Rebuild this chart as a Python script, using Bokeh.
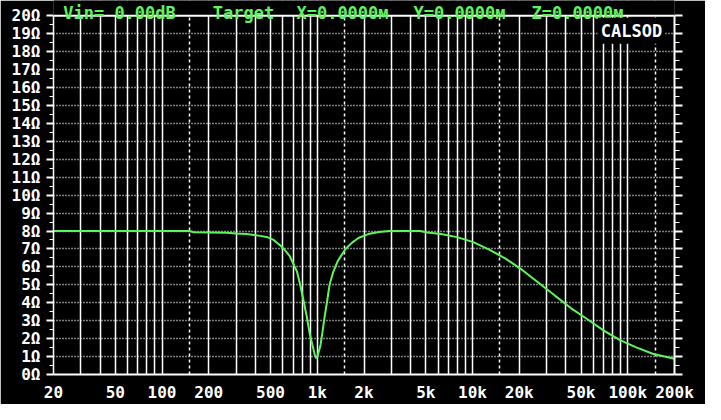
from bokeh.plotting import figure
from bokeh.models import (FixedTicker, Grid, LinearAxis, Label, CustomJSTickFormatter,
                          Range1d, Span, BoxAnnotation)
from bokeh.embed import file_html
from bokeh.resources import INLINE

# ---- data ----
freq_hz = [20, 100, 150, 160, 260, 300, 350, 430, 480, 520, 550, 590, 630, 665, 690,
           740, 775, 815, 855, 890, 933, 967, 985, 1010, 1050, 1080, 1117, 1160, 1200,
           1270, 1350, 1420, 1520, 1670, 1840, 2130, 2500, 2900, 4600, 5150, 6245,
           7960, 10120, 12900, 16420, 20900, 26620, 33930, 43180, 54990, 70080,
           89160, 113500, 144600, 200000]
impedance_ohm = [8.0, 8.0, 8.0, 7.93, 7.9, 7.86, 7.83, 7.73, 7.65, 7.52, 7.35, 7.13,
                 6.85, 6.6, 6.3, 5.74, 5.03, 4.14, 3.25, 2.36, 1.6, 1.05, 0.9, 1.1,
                 1.65, 2.36, 3.25, 4.14, 5.0, 5.74, 6.3, 6.6, 7.0, 7.34, 7.61, 7.83,
                 7.94, 8.0, 8.0, 7.92, 7.84, 7.66, 7.38, 6.95, 6.45, 5.83, 5.12, 4.4,
                 3.69, 3.08, 2.45, 1.92, 1.51, 1.16, 0.88]

x_tick_values = [20, 50, 100, 200, 500, 1000, 2000, 5000, 10000, 20000, 50000,
                 100000, 200000]
x_tick_labels = ["20", "50", "100", "200", "500", "1k", "2k", "5k", "10k", "20k",
                 "50k", "100k", "200k"]
x_grid_values = [30, 40, 50, 60, 70, 80, 90,
                 100, 200, 300, 400, 500, 600, 700, 800, 900,
                 1000, 2000, 3000, 4000, 5000, 6000, 7000, 8000, 9000,
                 10000, 20000, 30000, 40000, 50000, 60000, 70000, 80000, 90000,
                 100000]
x_marker_values = [150, 1500, 15000, 150000]
y_tick_values = list(range(0, 21))
y_tick_labels = [f"{v}Ω" for v in y_tick_values]
y_minor_values = [v + 0.5 for v in range(0, 20)]
y_grid_values = list(range(1, 20))

header_parts = ["Vin= 0.00dB", "Target", "X=0.0000м", "Y=0.0000м", "Z=0.0000м"]
badge_text = "CALSOD"

# ---- layout / style ----
GREEN = "#5cf55c"
FONT = "DejaVu Sans Mono"
X_MIN, X_MAX = 20, 200000
Y_MIN, Y_MAX = 0, 20
FRAME_H = 376            # frame height in px (figure height minus bottom border)
HEADER_PX = 15.4         # header band above the 20 ohm line
Y_TOP = Y_MAX * FRAME_H / (FRAME_H - HEADER_PX)

p = figure(width=705, height=404, x_axis_type="log",
           x_range=Range1d(X_MIN, X_MAX), y_range=Range1d(Y_MIN, Y_TOP),
           output_backend="svg", toolbar_location=None,
           background_fill_color="black", border_fill_color="black",
           outline_line_color=None,
           min_border_left=53, min_border_right=31, min_border_top=0,
           min_border_bottom=404 - FRAME_H)

# grids
p.xgrid.ticker = FixedTicker(ticks=x_grid_values)
p.xgrid.grid_line_color = "white"
p.xgrid.grid_line_width = 1.5
p.ygrid.ticker = FixedTicker(ticks=y_grid_values)
p.ygrid.grid_line_color = "white"
p.ygrid.grid_line_width = 1.5
p.ygrid.grid_line_dash = "1 2"
p.add_layout(Grid(dimension=0, ticker=FixedTicker(ticks=x_marker_values),
                  grid_line_color="white", grid_line_width=1.5,
                  grid_line_dash="3 3"))

# x axis
xa = p.xaxis[0]
xa.ticker = FixedTicker(ticks=x_tick_values)
xa.major_label_overrides = {v: lab for v, lab in zip(x_tick_values, x_tick_labels)}
xa.axis_line_color = "white"
xa.axis_line_width = 2
xa.major_tick_out = 0
xa.major_tick_in = 0
xa.minor_tick_out = 0
xa.minor_tick_in = 0
xa.major_label_standoff = 8
xa.major_label_text_color = "white"
xa.major_label_text_font = FONT
xa.major_label_text_font_style = "bold"
xa.major_label_text_font_size = "16px"

# left axis
ya = p.yaxis[0]
ya.bounds = (Y_MIN, Y_MAX)
ya.ticker = FixedTicker(ticks=y_tick_values, minor_ticks=y_minor_values)
ya.major_label_overrides = {v: lab for v, lab in zip(y_tick_values, y_tick_labels)}
ya.axis_line_color = "white"
ya.axis_line_width = 1.5
ya.major_tick_line_color = "white"
ya.minor_tick_line_color = "white"
ya.major_tick_line_width = 2
ya.major_tick_out = 7
ya.major_tick_in = 0
ya.minor_tick_out = 4
ya.minor_tick_in = 0
ya.major_label_standoff = 6
ya.major_label_text_color = "white"
ya.major_label_text_font = FONT
ya.major_label_text_font_style = "bold"
ya.major_label_text_font_size = "16px"

# right axis (ticks only)
ra = LinearAxis(ticker=FixedTicker(ticks=y_tick_values, minor_ticks=y_minor_values),
                formatter=CustomJSTickFormatter(code="return ''"),
                bounds=(Y_MIN, Y_MAX))
ra.axis_line_color = "white"
ra.axis_line_width = 2
ra.major_tick_line_color = "white"
ra.minor_tick_line_color = "white"
ra.major_tick_line_width = 2
ra.major_tick_out = 8
ra.major_tick_in = 0
ra.minor_tick_out = 5
ra.minor_tick_in = 0
ra.major_label_standoff = 0
p.add_layout(ra, "right")

# curve
p.line(freq_hz, impedance_ohm, line_color=GREEN, line_width=2)

# header band: mask above the 20 ohm line, and the top border line
p.add_layout(BoxAnnotation(bottom=Y_MAX, fill_color="black", fill_alpha=1.0,
                           line_color=None))
p.add_layout(Span(location=Y_MAX, dimension="width", line_color="white",
                  line_width=2))

# header text
header_centers = [66, 190, 289, 406, 524]
for txt, cx in zip(header_parts, header_centers):
    p.add_layout(Label(x=cx, x_units="screen", y=Y_MAX, y_units="data", y_offset=2.5,
                       text=txt, text_align="center", text_baseline="alphabetic",
                       text_color=GREEN, text_font=FONT, text_font_style="bold",
                       text_font_size="17px"))

# badge
p.add_layout(Label(x=578, x_units="screen", y=Y_MAX, y_units="data", y_offset=-2,
                   text=badge_text, text_align="center", text_baseline="top",
                   text_color="white", text_font=FONT, text_font_style="bold",
                   text_font_size="17px", background_fill_color="black",
                   padding=3))

open("out.html", "w").write(file_html(p, INLINE))
